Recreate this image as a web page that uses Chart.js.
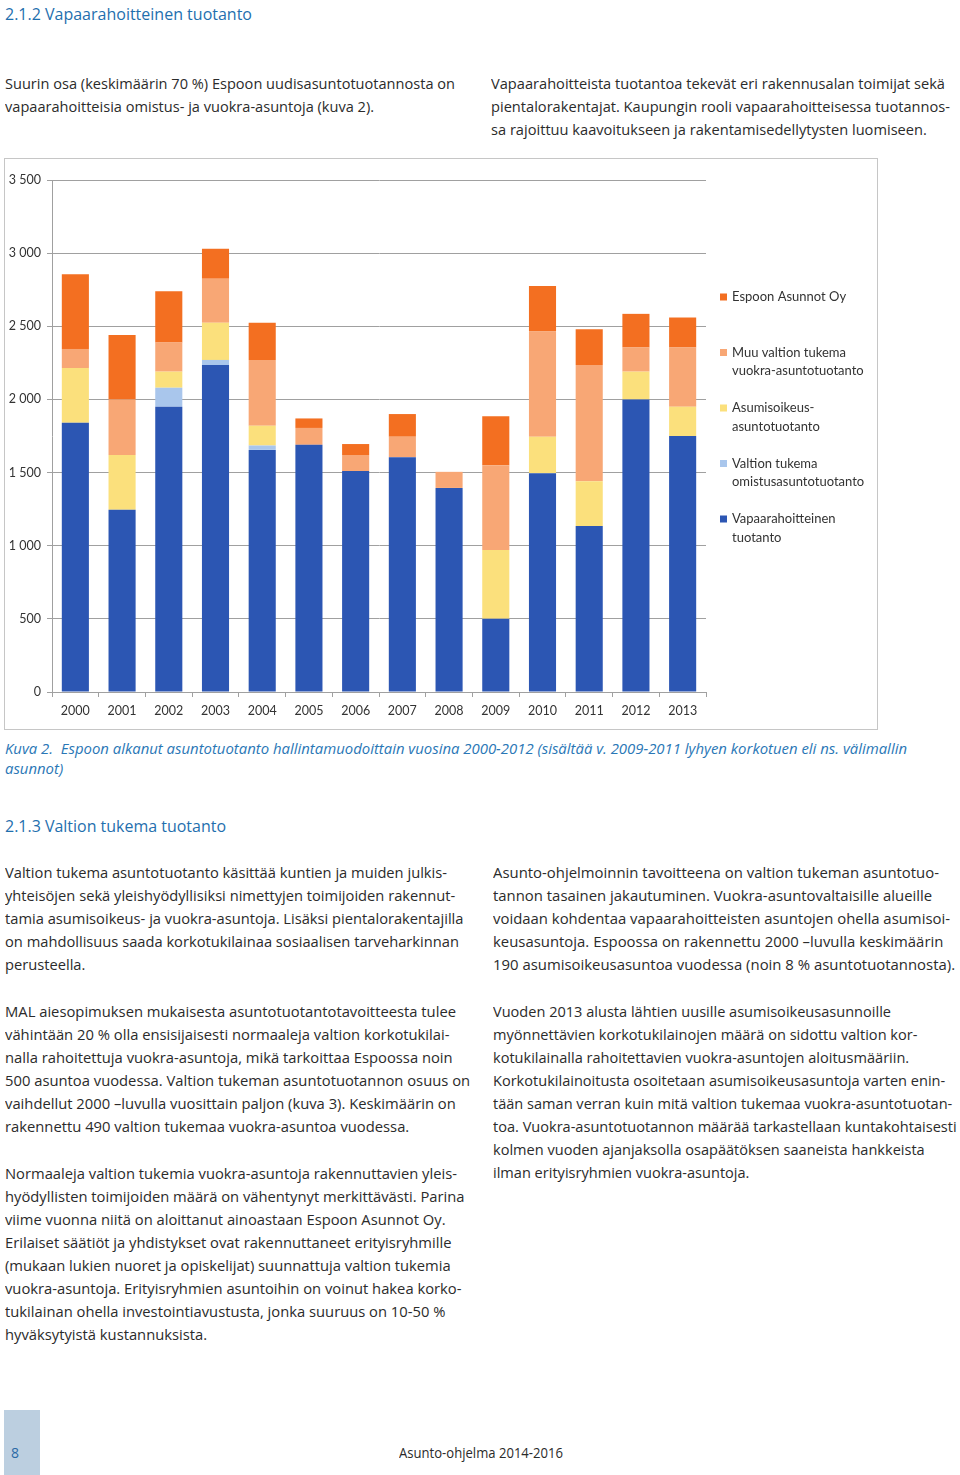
<!DOCTYPE html>
<html>
<head>
<meta charset="utf-8">
<script src="https://cdn.jsdelivr.net/npm/chart.js@4.4.1/dist/chart.umd.min.js"></script>
<style>
  html, body { margin: 0; padding: 0; background: #fff; }
  body { width: 960px; height: 1475px; position: relative; overflow: hidden; font-family: "Open Sans", sans-serif; color: #2b2b2b; }
  .p { position: absolute; font-size: 14px; line-height: 23px; white-space: nowrap; }
  .p span { display: block; width: max-content; transform-origin: 0 50%; }
  .cond { font-size: 15px; }
  .head { font-size: 17px; color: #1f6fae; }
  .cap { font-size: 15px; line-height: 20px; font-style: italic; color: #2a77b6; }
  #chartBox { position: absolute; left: 4px; top: 158px; width: 872px; height: 570px; border: 1px solid #c6c6c6; }
  #pageTab { position: absolute; left: 4px; top: 1410px; width: 36px; height: 65px; background: #bccfe0; }
</style>
</head>
<body>

<div class="p head cond" style="left:5px;top:1.5px" data-w="247"><span>2.1.2 Vapaarahoitteinen tuotanto</span></div>

<div class="p cond" style="left:5px;top:71.5px" data-w="450">
  <span>Suurin osa (keskimäärin 70 %) Espoon uudisasuntotuotannosta on</span>
  <span>vapaarahoitteisia omistus- ja vuokra-asuntoja (kuva 2).</span>
</div>
<div class="p cond" style="left:491px;top:71.5px" data-w="454">
  <span>Vapaarahoitteista tuotantoa tekevät eri rakennusalan toimijat sekä</span>
  <span>pientalorakentajat. Kaupungin rooli vapaarahoitteisessa tuotannos-</span>
  <span>sa rajoittuu kaavoitukseen ja rakentamisedellytysten luomiseen.</span>
</div>

<div id="chartBox"><canvas id="myChart"></canvas></div>

<div class="p cap" style="left:5px;top:738px" data-w="902">
  <span>Kuva 2.&nbsp; Espoon alkanut asuntotuotanto hallintamuodoittain vuosina 2000-2012 (sisältää v. 2009-2011 lyhyen korkotuen eli ns. välimallin</span>
  <span>asunnot)</span>
</div>

<div class="p head" style="left:5px;top:813.5px" data-w="221"><span>2.1.3 Valtion tukema tuotanto</span></div>

<div class="p" style="left:5px;top:860.5px" data-w="442">
  <span>Valtion tukema asuntotuotanto käsittää kuntien ja muiden julkis-</span>
  <span>yhteisöjen sekä yleishyödyllisiksi nimettyjen toimijoiden rakennut-</span>
  <span>tamia asumisoikeus- ja vuokra-asuntoja. Lisäksi pientalorakentajilla</span>
  <span>on mahdollisuus saada korkotukilainaa sosiaalisen tarveharkinnan</span>
  <span>perusteella.</span>
</div>
<div class="p" style="left:5px;top:999.5px" data-w="451">
  <span>MAL aiesopimuksen mukaisesta asuntotuotantotavoitteesta tulee</span>
  <span>vähintään 20 % olla ensisijaisesti normaaleja valtion korkotukilai-</span>
  <span>nalla rahoitettuja vuokra-asuntoja, mikä tarkoittaa Espoossa noin</span>
  <span>500 asuntoa vuodessa. Valtion tukeman asuntotuotannon osuus on</span>
  <span>vaihdellut 2000 –luvulla vuosittain paljon (kuva 3). Keskimäärin on</span>
  <span>rakennettu 490 valtion tukemaa vuokra-asuntoa vuodessa.</span>
</div>
<div class="p" style="left:5px;top:1161.5px" data-w="452">
  <span>Normaaleja valtion tukemia vuokra-asuntoja rakennuttavien yleis-</span>
  <span>hyödyllisten toimijoiden määrä on vähentynyt merkittävästi. Parina</span>
  <span>viime vuonna niitä on aloittanut ainoastaan Espoon Asunnot Oy.</span>
  <span>Erilaiset säätiöt ja yhdistykset ovat rakennuttaneet erityisryhmille</span>
  <span>(mukaan lukien nuoret ja opiskelijat) suunnattuja valtion tukemia</span>
  <span>vuokra-asuntoja. Erityisryhmien asuntoihin on voinut hakea korko-</span>
  <span>tukilainan ohella investointiavustusta, jonka suuruus on 10-50 %</span>
  <span>hyväksytyistä kustannuksista.</span>
</div>

<div class="p" style="left:493px;top:860.5px" data-w="446">
  <span>Asunto-ohjelmoinnin tavoitteena on valtion tukeman asuntotuo-</span>
  <span>tannon tasainen jakautuminen. Vuokra-asuntovaltaisille alueille</span>
  <span>voidaan kohdentaa vapaarahoitteisten asuntojen ohella asumisoi-</span>
  <span>keusasuntoja. Espoossa on rakennettu 2000 –luvulla keskimäärin</span>
  <span>190 asumisoikeusasuntoa vuodessa (noin 8 % asuntotuotannosta).</span>
</div>
<div class="p" style="left:493px;top:999.5px" data-w="398">
  <span>Vuoden 2013 alusta lähtien uusille asumisoikeusasunnoille</span>
  <span>myönnettävien korkotukilainojen määrä on sidottu valtion kor-</span>
  <span>kotukilainalla rahoitettavien vuokra-asuntojen aloitusmääriin.</span>
  <span>Korkotukilainoitusta osoitetaan asumisoikeusasuntoja varten enin-</span>
  <span>tään saman verran kuin mitä valtion tukemaa vuokra-asuntotuotan-</span>
  <span>toa. Vuokra-asuntotuotannon määrää tarkastellaan kuntakohtaisesti</span>
  <span>kolmen vuoden ajanjaksolla osapäätöksen saaneista hankkeista</span>
  <span>ilman erityisryhmien vuokra-asuntoja.</span>
</div>

<div id="pageTab"></div>
<div class="p" style="left:11px;top:1440.5px;color:#2a6aa5"><span>8</span></div>
<div class="p" style="left:399px;top:1440.5px" data-w="164"><span>Asunto-ohjelma 2014-2016</span></div>

<script>
// squeeze each text block so its first line matches the width in the picture
document.querySelectorAll('.p[data-w]').forEach(function(block) {
  var spans = block.querySelectorAll('span');
  var k = Number(block.dataset.w) / spans[0].getBoundingClientRect().width;
  spans.forEach(function(s) { s.style.transform = 'scaleX(' + k + ')'; });
});

const years = ['2000', '2001', '2002', '2003', '2004', '2005', '2006', '2007', '2008', '2009', '2010', '2011', '2012', '2013'];

const vapaarahoitteinen = [1840, 1245, 1950, 2235, 1655, 1690, 1510, 1605, 1395, 500, 1495, 1135, 2000, 1750];
const valtionOmistus    = [0, 0, 130, 35, 30, 0, 0, 0, 0, 0, 0, 0, 0, 0];
const asumisoikeus      = [375, 375, 110, 255, 135, 0, 0, 0, 0, 470, 250, 305, 190, 200];
const muuVuokra         = [130, 380, 200, 300, 450, 115, 110, 140, 110, 580, 720, 795, 165, 405];
const espoonAsunnot     = [510, 440, 350, 205, 255, 65, 75, 155, 0, 335, 310, 245, 230, 205];

const yTickLabels = ['0', '500', '1 000', '1 500', '2 000', '2 500', '3 000', '3 500'];

// legend text, bottom series first, split like in the picture
const legendLines = [
  ['Vapaarahoitteinen', 'tuotanto'],
  ['Valtion tukema', 'omistusasuntotuotanto'],
  ['Asumisoikeus-', 'asuntotuotanto'],
  ['Muu valtion tukema', 'vuokra-asuntotuotanto'],
  ['Espoon Asunnot Oy']
];

Chart.defaults.font.family = 'Lato';
Chart.defaults.font.size = 12.5;
Chart.defaults.color = '#333';

const sideLegend = {
  id: 'sideLegend',
  afterDraw(chart) {
    const c = chart.ctx;
    const sets = chart.data.datasets;
    const x = chart.chartArea.right;
    c.save();
    c.font = '13px Lato';
    c.textBaseline = 'middle';
    for (let k = 0; k < sets.length; k++) {
      const i = sets.length - 1 - k;
      const y = 138 + k * 55.5;
      c.fillStyle = sets[i].backgroundColor;
      c.fillRect(x + 14, y - 3.5, 7, 7);
      c.fillStyle = '#333';
      legendLines[i].forEach(function(t, j) { c.fillText(t, x + 26, y + j * 18.7); });
    }
    c.restore();
  }
};

const ctx = document.getElementById('myChart').getContext('2d');

const chart = new Chart(ctx, {
  type: 'bar',
  data: {
    labels: years,
    datasets: [
      { label: 'Vapaarahoitteinen tuotanto', backgroundColor: '#2c56b3', data: vapaarahoitteinen },
      { label: 'Valtion tukema omistusasuntotuotanto', backgroundColor: '#a9c6ec', data: valtionOmistus },
      { label: 'Asumisoikeusasuntotuotanto', backgroundColor: '#fbe07c', data: asumisoikeus },
      { label: 'Muu valtion tukema vuokra-asuntotuotanto', backgroundColor: '#f8a775', data: muuVuokra },
      { label: 'Espoon Asunnot Oy', backgroundColor: '#f36f21', data: espoonAsunnot }
    ]
  },
  options: {
    responsive: true,
    maintainAspectRatio: false,
    animation: false,
    layout: { padding: { left: 0, top: 21, right: 171, bottom: 0 } },
    datasets: { bar: { categoryPercentage: 1, barPercentage: 0.58, borderWidth: 0 } },
    plugins: {
      legend: { display: false },
      tooltip: { enabled: false }
    },
    scales: {
      x: {
        stacked: true,
        grid: { drawOnChartArea: false, color: '#a0a0a0', tickLength: 5 },
        border: { color: '#a0a0a0' },
        ticks: { padding: 6 },
        afterFit: function(s) { s.height = 37; }
      },
      y: {
        stacked: true,
        min: 0,
        max: 3500,
        grid: { color: '#a0a0a0', tickLength: 5 },
        border: { color: '#a0a0a0' },
        ticks: {
          stepSize: 500,
          padding: 6,
          callback: function(v, i) { return yTickLabels[i]; }
        },
        afterFit: function(s) { s.width = 47; }
      }
    }
  },
  plugins: [sideLegend]
});
</script>
</body>
</html>
